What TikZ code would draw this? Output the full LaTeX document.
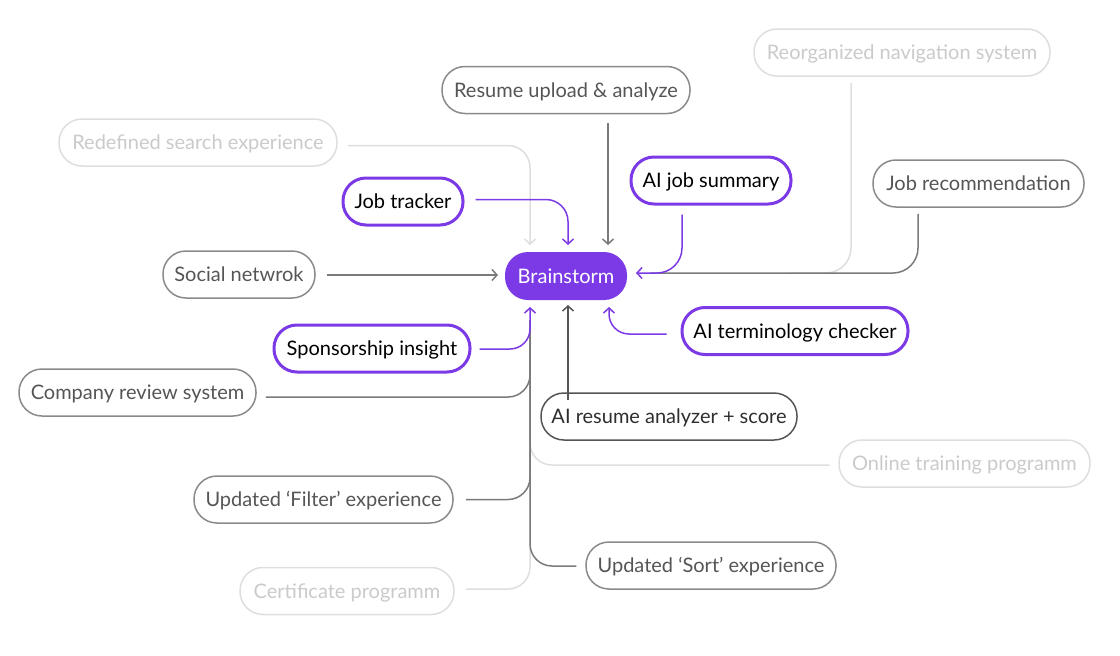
\documentclass[tikz,border=0pt]{standalone}
\usepackage{fontspec}
\setmainfont{Lato}
\usetikzlibrary{arrows.meta}
\definecolor{vio}{HTML}{7C3AE6}
\definecolor{lighttext}{HTML}{CACACA}
\definecolor{lightline}{HTML}{DEDEDE}
\definecolor{graytext}{HTML}{555555}
\definecolor{grayline}{HTML}{8A8A8A}
\definecolor{darktext}{HTML}{2E2E2E}
\definecolor{darkline}{HTML}{555555}
\definecolor{conn}{HTML}{7A7A7A}
\tikzset{
  pill/.style={draw, rounded corners=23pt, minimum height=47pt, line width=1.5pt,
    font=\fontsize{20}{22}\selectfont, inner xsep=0pt, inner ysep=0pt,
    text height=18pt, text depth=4pt},
  lightpill/.style={pill, draw=lightline, text=lighttext},
  graypill/.style={pill, draw=grayline, text=graytext},
  darkpill/.style={pill, draw=darkline, text=darktext},
  purpill/.style={pill, draw=vio, line width=3pt, text=black},
  brainpill/.style={pill, draw=none, fill=vio, text=white, minimum height=48pt},
  tip/.style={-{Straight Barb[length=5pt,width=11pt]}},
  lightc/.style={draw=lightline, line width=1.5pt, rounded corners=22pt},
  grayc/.style={draw=conn, line width=1.5pt, rounded corners=22pt},
  darkc/.style={draw=darkline, line width=1.5pt, rounded corners=22pt},
  purc/.style={draw=vio, line width=1.5pt, rounded corners=22pt},
}
\begin{document}
\begin{tikzpicture}[x=1pt,y=-1pt]
\useasboundingbox (0,0) rectangle (1120,656);
% nodes
\node[lightpill, minimum width=296pt] (reorg) at (902,52.5) {Reorganized navigation system};
\node[graypill, minimum width=248pt] (resume) at (566,90) {Resume upload \& analyze};
\node[lightpill, minimum width=278pt] (redef) at (198,142.5) {Redefined search experience};
\node[purpill, minimum width=120pt] (tracker) at (403,201.5) {Job tracker};
\node[purpill, minimum width=160pt] (aijob) at (711,180.5) {AI job summary};
\node[graypill, minimum width=211pt] (jobrec) at (978.5,183.5) {Job recommendation};
\node[graypill, minimum width=152pt] (social) at (239,274.5) {Social netwrok};
\node[brainpill, minimum width=122pt] (brain) at (566,276) {Brainstorm};
\node[purpill, minimum width=226pt] (aiterm) at (795,331) {AI terminology checker};
\node[purpill, minimum width=196pt] (sponsor) at (372,348.5) {Sponsorship insight};
\node[graypill, minimum width=237pt] (company) at (137.5,392.5) {Company review system};
\node[darkpill, minimum width=256pt] (airesume) at (669,416.5) {AI resume analyzer + score};
\node[lightpill, minimum width=251pt] (online) at (964.5,463.5) {Online training programm};
\node[graypill, minimum width=259pt] (filter) at (323.5,499.5) {Updated ‘Filter’ experience};
\node[graypill, minimum width=250pt] (sort) at (711,565.5) {Updated ‘Sort’ experience};
\node[lightpill, minimum width=214pt] (cert) at (347,591) {Certificate programm};
% light connectors
\draw[lightc, tip] (redef.east) ++(10,3) -- (530,145.5) -- (530,245);
\draw[lightc, rounded corners=25pt] (reorg.south) ++(-51,6) -- (851,273) -- (790,273);
\draw[lightc] (online.west) ++(-9,1.5) -- (530,465) -- (530,320);
\draw[lightc] (cert.east) ++(11,-2) -- (530,589) -- (530,320);
% gray connectors
\draw[grayc, tip] (resume.south) ++(42,9) -- (608,245);
\draw[grayc, rounded corners=25pt] (jobrec.south) ++(-60.5,6) -- (918,273) -- (650,273);
\draw[grayc, tip] (social.east) ++(11,0.5) -- (498,275);
\draw[grayc] (company.east) ++(9,4.5) -- (530,397) -- (530,320);
\draw[grayc] (filter.east) ++(12,0) -- (530,499.5) -- (530,320);
\draw[grayc] (sort.west) ++(-9,0.5) -- (530,566) -- (530,320);
% dark connector
\draw[darkc, tip] (airesume.north) ++(-101,8) -- (568,305);
% purple connectors
\draw[purc, tip] (tracker.east) ++(11,-2) -- (568,199.5) -- (568,245);
\draw[purc, tip, rounded corners=25pt] (aijob.south) ++(-29,9) -- (682,273) -- (636,273);
\draw[purc, tip, rounded corners=20pt] (aiterm.west) ++(-14,3) -- (609,334) -- (609,307);
\draw[purc, tip, rounded corners=20pt] (sponsor.east) ++(8,0.5) -- (530,349) -- (530,307);
\end{tikzpicture}
\end{document}
